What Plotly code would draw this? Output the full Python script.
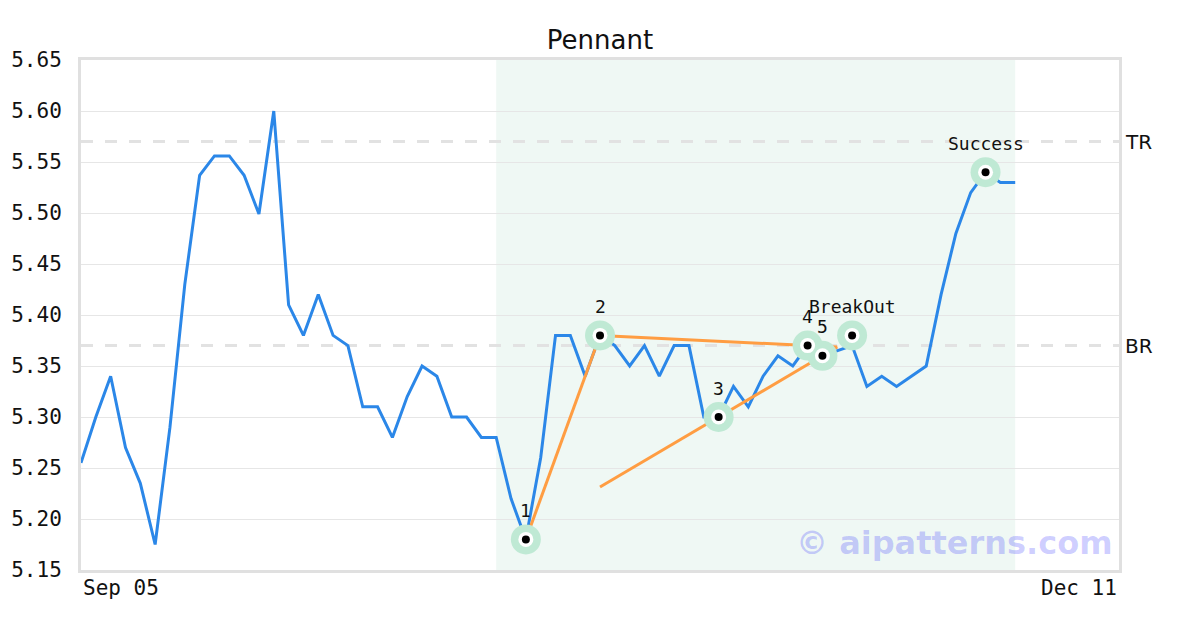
import plotly.graph_objects as go

# ---- data ----
prices = [5.255, 5.30, 5.34, 5.27, 5.235, 5.175, 5.29, 5.43, 5.537, 5.556,
          5.556, 5.537, 5.499, 5.60, 5.41, 5.38, 5.42, 5.38, 5.37, 5.31,
          5.31, 5.28, 5.32, 5.35, 5.34, 5.30, 5.30, 5.28, 5.28, 5.22,
          5.18, 5.26, 5.38, 5.38, 5.34, 5.38, 5.37, 5.35, 5.37, 5.34,
          5.37, 5.37, 5.30, 5.30, 5.33, 5.31, 5.34, 5.36, 5.35, 5.37,
          5.36, 5.365, 5.37, 5.33, 5.34, 5.33, 5.34, 5.35, 5.42, 5.48,
          5.52, 5.54, 5.53, 5.53]
idx = list(range(len(prices)))

tick_labels = ["Sep 05", "Dec 11"]
tick_positions = [0, 70]

point_labels = ["1", "2", "3", "4", "5", "BreakOut", "Success"]
point_idx = [30, 35, 43, 49, 50, 52, 61]
point_vals = [5.18, 5.38, 5.30, 5.37, 5.36, 5.38, 5.54]

upper_x = [35, 51]
upper_y = [5.38, 5.3686]
lower_x = [35, 51]
lower_y = [5.2314, 5.3686]
leg1_x = [30, 35]
leg1_y = [5.18, 5.38]

tr_level = 5.57
br_level = 5.37
zone = [28, 63]

mono = "DejaVu Sans Mono"
sans = "DejaVu Sans"

W, H = 1192, 622  # page body has an 8px margin

fig = go.Figure()

fig.add_trace(go.Scatter(x=idx, y=prices, mode="lines",
                         line=dict(color="#2b87e8", width=3), hoverinfo="skip"))
for xs, ys in [(leg1_x, leg1_y), (upper_x, upper_y), (lower_x, lower_y)]:
    fig.add_trace(go.Scatter(x=xs, y=ys, mode="lines",
                             line=dict(color="#ff9d42", width=3), hoverinfo="skip"))

fig.add_trace(go.Scatter(x=point_idx, y=point_vals, mode="markers",
                         marker=dict(size=30, color="#bfe9d4", line=dict(width=0)),
                         hoverinfo="skip"))
fig.add_trace(go.Scatter(x=point_idx, y=point_vals, mode="markers",
                         marker=dict(size=15, color="white", line=dict(width=0)),
                         hoverinfo="skip"))
fig.add_trace(go.Scatter(x=point_idx, y=point_vals, mode="markers",
                         marker=dict(size=8, color="black", line=dict(width=0)),
                         hoverinfo="skip"))

for lab, xi, yv in zip(point_labels, point_idx, point_vals):
    fig.add_annotation(x=xi, y=yv, text=lab, showarrow=False, yshift=29,
                       xanchor="center", yanchor="middle",
                       font=dict(family=mono, size=18, color="#111"))

# shaded pattern zone
fig.add_shape(type="rect", xref="x", yref="paper", x0=zone[0], x1=zone[1], y0=0, y1=1,
              fillcolor="#eff8f4", line=dict(width=0), layer="between")

# TR / BR dashed levels
for lvl, name in [(tr_level, "TR"), (br_level, "BR")]:
    fig.add_shape(type="line", xref="paper", yref="y", x0=0, x1=1, y0=lvl, y1=lvl,
                  line=dict(color="#e2e2e2", width=3, dash="12px,12px"), layer="between")
    fig.add_annotation(xref="paper", yref="y", x=1, y=lvl, text=name, showarrow=False,
                       xanchor="left", yanchor="middle", xshift=4,
                       font=dict(family=sans, size=20, color="#111"))

# x tick labels (first left-aligned, last right-aligned)
for lab, pos, anc in zip(tick_labels, tick_positions, ["left", "right"]):
    fig.add_annotation(xref="x", yref="paper", x=pos, y=0, text=lab, showarrow=False,
                       xanchor=anc, yanchor="top", yshift=-4,
                       font=dict(family=mono, size=21, color="#111"))

# watermark
fig.add_annotation(xref="paper", yref="paper", x=1, y=0, text="© aipatterns.com",
                   showarrow=False, xanchor="right", yanchor="bottom",
                   xshift=-4, yshift=6,
                   font=dict(family=sans, size=32, color="rgba(0,0,255,0.2)", weight="bold"))

fig.update_layout(
    width=W, height=H,
    margin=dict(l=73, r=81, t=52, b=60, autoexpand=False),
    paper_bgcolor="white", plot_bgcolor="white",
    showlegend=False,
    title=dict(text="Pennant", x=(73 + (W - 81)) / 2 / W, xanchor="center",
               y=1 - 32 / H, yanchor="middle",
               font=dict(family=sans, size=26, color="#111")),
)
fig.update_xaxes(range=[0, 70], showgrid=False, zeroline=False, showticklabels=False,
                 showline=True, mirror=True, linecolor="#e0e0e0", linewidth=3, ticks="",
                 automargin=False)
fig.update_yaxes(range=[5.15, 5.65], dtick=0.05, tickformat=".2f", showgrid=True,
                 gridcolor="#e6e6e6", gridwidth=1, zeroline=False,
                 showline=True, mirror=True, linecolor="#e0e0e0", linewidth=3, ticks="",
                 ticklabelstandoff=12, automargin=False,
                 tickfont=dict(family=mono, size=21, color="#111"))

fig.write_html("out.html")
